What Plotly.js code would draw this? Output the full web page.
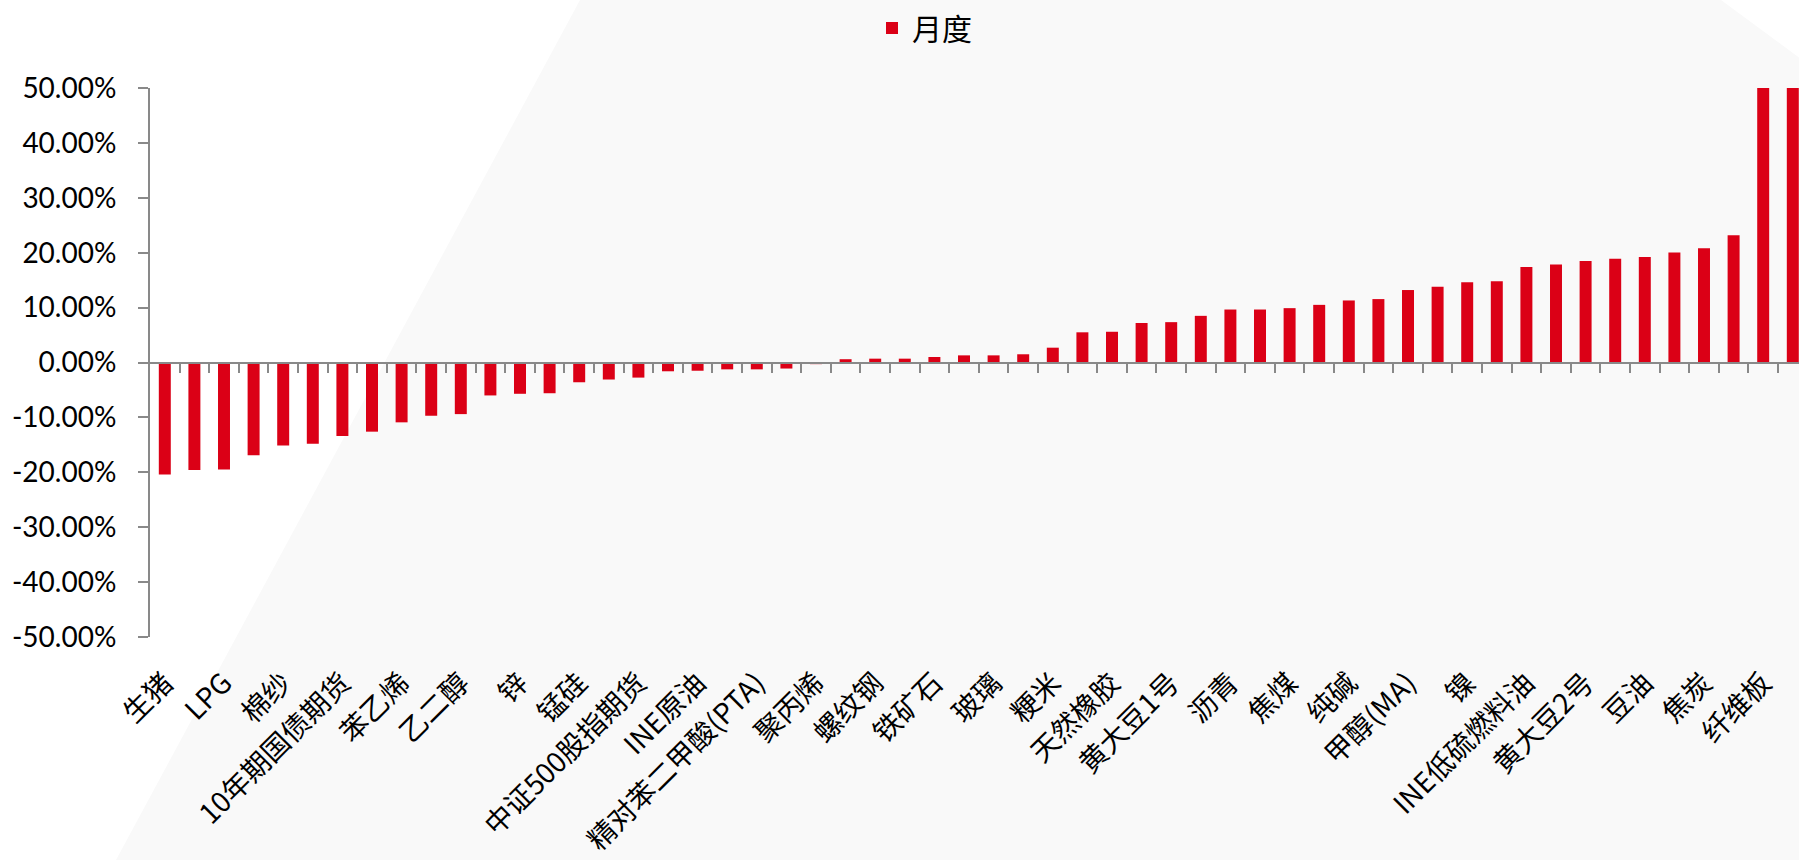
<!DOCTYPE html>
<html>
<head>
<meta charset="utf-8">
<script src="https://cdn.plot.ly/plotly-3.0.1.min.js"></script>
<style>
  html, body { margin: 0; padding: 0; background: #ffffff; }
  #chart { width: 1799px; height: 860px; }
</style>
</head>
<body>
<div id="chart"></div>
<script>
// Tick labels (Excel shows every other category)
const labels = [
  "生猪", "LPG", "棉纱", "10年期国债期货", "苯乙烯", "乙二醇", "锌", "锰硅",
  "中证500股指期货", "INE原油", "精对苯二甲酸(PTA)", "聚丙烯", "螺纹钢", "铁矿石",
  "玻璃", "粳米", "天然橡胶", "黄大豆1号", "沥青", "焦煤", "纯碱", "甲醇(MA)",
  "镍", "INE低硫燃料油", "黄大豆2号", "豆油", "焦炭", "纤维板"
];

// Monthly change (%) for each of the 56 contracts, left to right
const monthly = [
  -20.4, -19.6, -19.5, -16.9, -15.1, -14.8, -13.4, -12.6, -10.9, -9.7,
  -9.4, -6.0, -5.7, -5.6, -3.6, -3.1, -2.75, -1.6, -1.5, -1.25,
  -1.25, -1.1, -0.3, 0.6, 0.7, 0.7, 1.0, 1.3, 1.3, 1.5,
  2.7, 5.5, 5.6, 7.2, 7.35, 8.5, 9.65, 9.65, 9.9, 10.5,
  11.3, 11.55, 13.2, 13.8, 14.6, 14.8, 17.4, 17.85, 18.5, 18.9,
  19.2, 20.05, 20.8, 23.2, 50.0, 50.0
];

const seriesName = "月度";
const yTicks = [-50, -40, -30, -20, -10, 0, 10, 20, 30, 40, 50];
const yTickText = yTicks.map(v => v.toFixed(2) + "%");

const xPos = monthly.map((_, i) => i);
const labelPos = labels.map((_, k) => 2 * k);
const boundaryPos = monthly.slice(1).map((_, i) => i + 0.5);

const W = 1799, H = 860;
const mL = 150, mR = 0, mT = 88, mB = 223;
const plotW = W - mL - mR, plotH = H - mT - mB;
const catPx = 29.6;
const xRange = [-0.5, -0.5 + plotW / catPx];

const px2x = p => (p - mL) / plotW;
const px2y = p => (H - mB - p) / plotH;

const red = "#db0016";
const axisGrey = "#898989";
const latinFont = "Lato, 'Noto Sans CJK SC', sans-serif";
const cjkFont = "'Noto Sans CJK SC', Lato, sans-serif";

const bars = {
  type: "bar",
  name: seriesName,
  x: xPos,
  y: monthly,
  marker: { color: red },
  xaxis: "x",
  yaxis: "y",
  hoverinfo: "skip"
};

// invisible companion trace so the category-label axis is drawn
const labelCarrier = {
  type: "scatter",
  mode: "markers",
  x: xPos,
  y: monthly,
  marker: { opacity: 0, size: 1 },
  xaxis: "x2",
  yaxis: "y",
  showlegend: false,
  hoverinfo: "skip"
};

const layout = {
  width: W,
  height: H,
  margin: { l: mL, r: mR, t: mT, b: mB, pad: 0 },
  paper_bgcolor: "#f9f9f9",
  plot_bgcolor: "rgba(0,0,0,0)",
  bargap: 0.595,
  showlegend: true,
  legend: {
    orientation: "h",
    x: px2x(872),
    xanchor: "left",
    y: px2y(28),
    yanchor: "middle",
    font: { family: cjkFont, size: 30, color: "#000000" },
    bgcolor: "rgba(0,0,0,0)"
  },
  xaxis: {
    type: "linear",
    range: xRange,
    anchor: "free",
    position: 0.5,
    showline: true,
    linecolor: axisGrey,
    linewidth: 2,
    ticks: "outside",
    tickvals: boundaryPos,
    ticklen: 9,
    tickwidth: 2,
    tickcolor: axisGrey,
    showticklabels: false,
    showgrid: false,
    zeroline: false,
    fixedrange: true
  },
  xaxis2: {
    type: "linear",
    overlaying: "x",
    range: xRange,
    anchor: "y",
    side: "bottom",
    showline: false,
    ticks: "",
    tickvals: labelPos,
    ticktext: labels,
    tickangle: -45,
    ticklabelstandoff: 23,
    tickfont: { family: cjkFont, size: 28, color: "#000000" },
    showgrid: false,
    zeroline: false,
    automargin: false,
    fixedrange: true
  },
  yaxis: {
    range: [-50, 50],
    tickvals: yTicks,
    ticktext: yTickText,
    showline: true,
    linecolor: axisGrey,
    linewidth: 2,
    ticks: "outside",
    ticklen: 10,
    tickwidth: 2,
    tickcolor: axisGrey,
    ticklabelstandoff: 16,
    tickfont: { family: latinFont, size: 28, color: "#000000" },
    showgrid: false,
    zeroline: false,
    automargin: false,
    fixedrange: true
  },
  shapes: [
    {
      type: "path",
      xref: "paper", yref: "paper",
      path: "M " + px2x(-2) + "," + px2y(-2) +
            " L " + px2x(580) + "," + px2y(0) +
            " L " + px2x(116) + "," + px2y(860) +
            " L " + px2x(-2) + "," + px2y(862) + " Z",
      fillcolor: "#ffffff",
      line: { width: 0 },
      layer: "below"
    },
    {
      type: "path",
      xref: "paper", yref: "paper",
      path: "M " + px2x(1721) + "," + px2y(0) +
            " L " + px2x(1801) + "," + px2y(-2) +
            " L " + px2x(1801) + "," + px2y(59) + " Z",
      fillcolor: "#ffffff",
      line: { width: 0 },
      layer: "below"
    }
  ]
};

Plotly.newPlot("chart", [bars, labelCarrier], layout, { displayModeBar: false, staticPlot: true });
</script>
</body>
</html>
